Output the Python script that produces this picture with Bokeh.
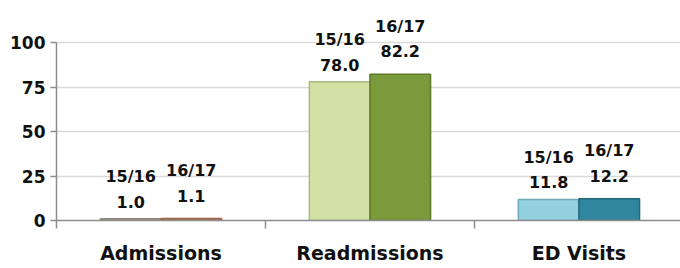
from bokeh.plotting import figure
from bokeh.models import ColumnDataSource, Range1d, FixedTicker, LabelSet
from bokeh.core.properties import value
from bokeh.embed import file_html
from bokeh.resources import INLINE

categories = ["Admissions", "Readmissions", "ED Visits"]
series = ["15/16", "16/17"]
values_1516 = [1.0, 78.0, 11.8]
values_1617 = [1.1, 82.2, 12.2]
y_ticks = [0, 25, 50, 75, 100]

colors_1516 = ["#aba195", "#d3e1a5", "#93d0e0"]
colors_1617 = ["#c2805e", "#7a9a3c", "#31879e"]
edges_1516 = ["#8f877d", "#aab983", "#6fa9b8"]
edges_1617 = ["#9c6248", "#5d7a2a", "#23677a"]

FONT = value("DejaVu Sans")
BAR_W = 0.29

pos = list(range(1, len(categories) + 1))
seps = [q - 0.5 for q in pos] + [pos[-1] + 0.5]

p = figure(width=680, height=268, output_backend="svg", toolbar_location=None,
           x_range=Range1d(0.5, 3.486), y_range=Range1d(0, 123.6),
           min_border_left=56, min_border_right=0, min_border_top=0,
           min_border_bottom=48)
p.outline_line_color = None
p.background_fill_color = "white"

sets = [(series[0], values_1516, colors_1516, edges_1516, -BAR_W / 2, 17),
        (series[1], values_1617, colors_1617, edges_1617, BAR_W / 2, 23)]

for name, vals, cols, edges, dx, off in sets:
    src = ColumnDataSource(dict(
        x=[q + dx for q in pos], top=vals, color=cols, edge=edges,
        val=[f"{v:.1f}" for v in vals], name=[name] * len(vals)))
    p.vbar(x="x", top="top", width=BAR_W, fill_color="color",
           line_color="edge", line_width=1.5, source=src)
    p.add_layout(LabelSet(x="x", y="top", text="val", source=src,
                          y_offset=off, text_align="center", text_baseline="middle",
                          text_font=FONT, text_font_style="bold",
                          text_font_size="16px", text_color="#111111"))
    p.add_layout(LabelSet(x="x", y="top", text="name", source=src,
                          y_offset=off + 25, text_align="center", text_baseline="middle",
                          text_font=FONT, text_font_style="bold",
                          text_font_size="16px", text_color="#111111"))

# y axis
p.yaxis.ticker = FixedTicker(ticks=y_ticks)
p.yaxis.bounds = (y_ticks[0], y_ticks[-1])
p.yaxis.axis_line_color = "#8c8c8c"
p.yaxis.axis_line_width = 1.5
p.yaxis.major_tick_line_color = "#8c8c8c"
p.yaxis.major_tick_line_width = 1.5
p.yaxis.major_tick_out = 6
p.yaxis.major_tick_in = 0
p.yaxis.minor_tick_line_color = None
p.yaxis.major_label_text_font = "DejaVu Sans"
p.yaxis.major_label_text_font_style = "bold"
p.yaxis.major_label_text_font_size = "17px"
p.yaxis.major_label_text_color = "#111111"
p.yaxis.major_label_standoff = 5

# x axis
p.xaxis.ticker = FixedTicker(ticks=pos, minor_ticks=seps)
p.xaxis.major_label_overrides = {q: c for q, c in zip(pos, categories)}
p.xaxis.axis_line_color = "#8c8c8c"
p.xaxis.axis_line_width = 1.5
p.xaxis.major_tick_line_color = None
p.xaxis.major_tick_out = 0
p.xaxis.major_tick_in = 0
p.xaxis.minor_tick_line_color = "#8c8c8c"
p.xaxis.minor_tick_line_width = 1.5
p.xaxis.minor_tick_out = 8
p.xaxis.minor_tick_in = 0
p.xaxis.major_label_text_font = "DejaVu Sans"
p.xaxis.major_label_text_font_style = "bold"
p.xaxis.major_label_text_font_size = "19px"
p.xaxis.major_label_text_color = "#111111"
p.xaxis.major_label_standoff = 13

p.xgrid.grid_line_color = None
p.ygrid.ticker = FixedTicker(ticks=y_ticks)
p.ygrid.grid_line_color = "#d9d9d9"
p.ygrid.grid_line_width = 1.5

open("out.html", "w").write(file_html(p, INLINE))
